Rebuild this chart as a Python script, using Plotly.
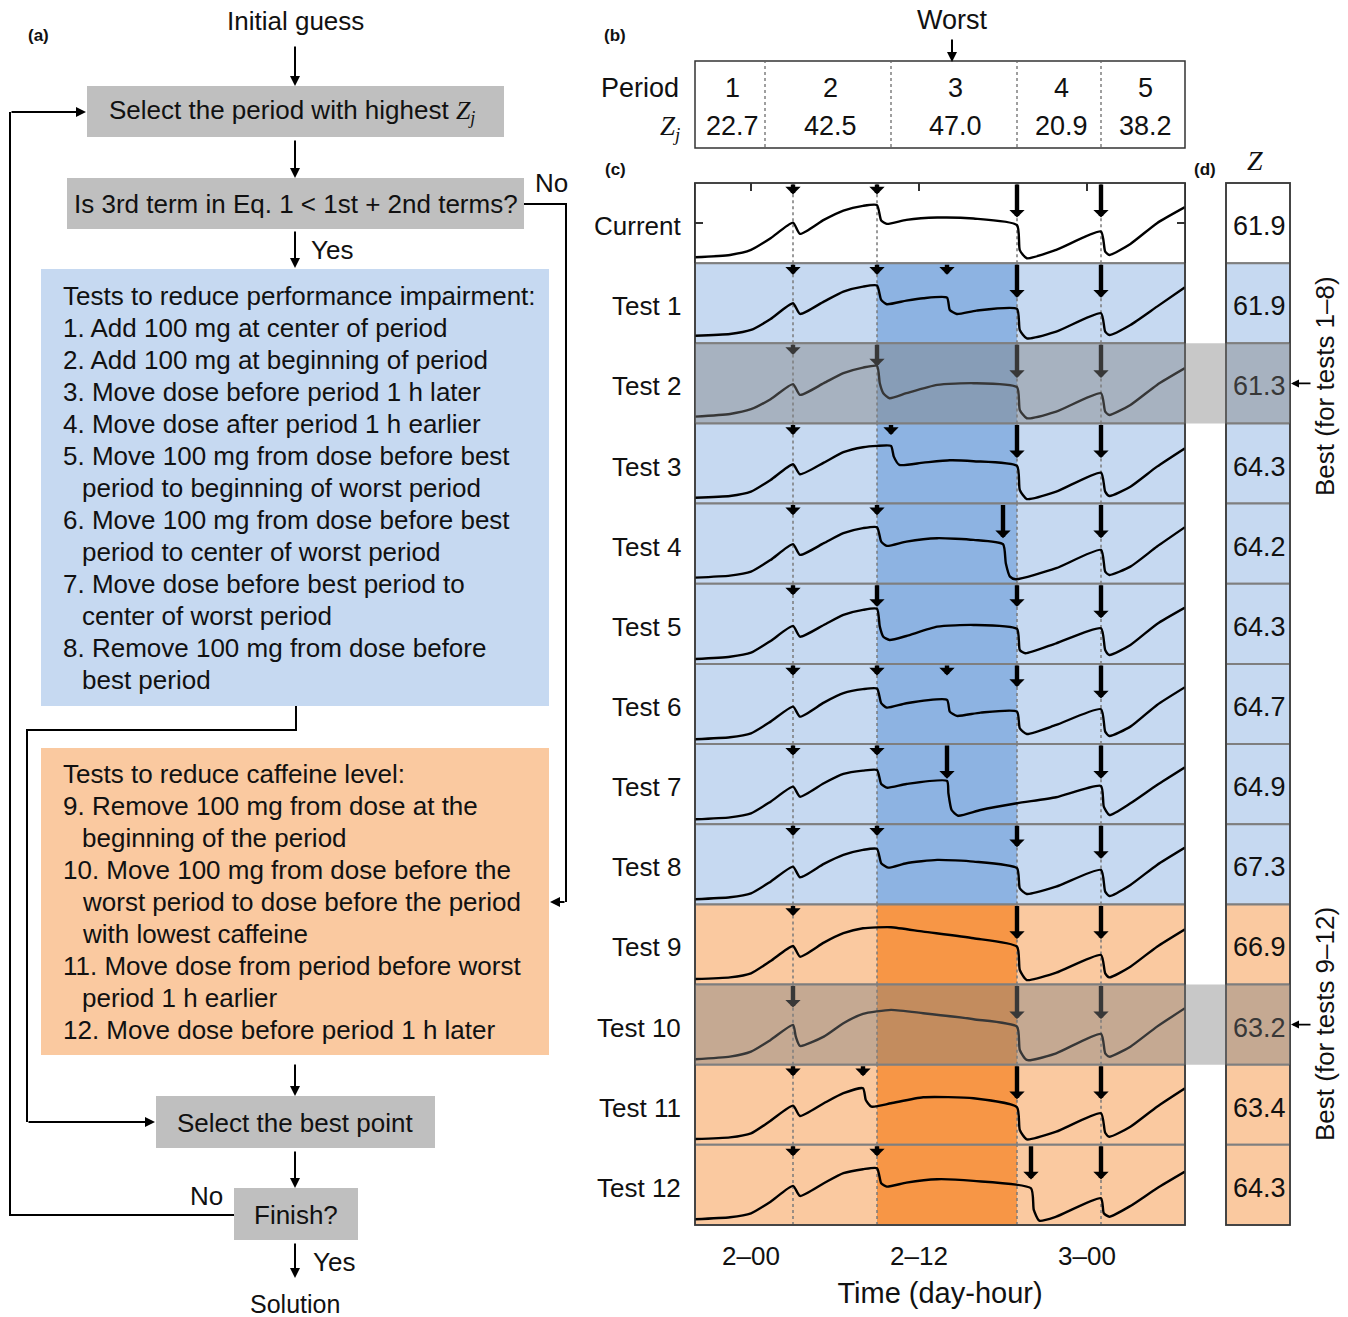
import plotly.graph_objects as go

# ------------------------------------------------------------------ data
row_labels = ["Current", "Test 1", "Test 2", "Test 3", "Test 4", "Test 5", "Test 6",
              "Test 7", "Test 8", "Test 9", "Test 10", "Test 11", "Test 12"]
row_group = ["current"] + ["impair"] * 8 + ["caffeine"] * 4
z_total = [61.9, 61.9, 61.3, 64.3, 64.2, 64.3, 64.7, 64.9, 67.3, 66.9, 63.2, 63.4, 64.3]
best_rows = ["Test 2", "Test 10"]

periods = ["1", "2", "3", "4", "5"]
period_z = ["22.7", "42.5", "47.0", "20.9", "38.2"]
worst_period = "3"

period_bounds_h = [3, 9, 19, 25]
worst_start_h, worst_end_h = 9, 19
time_ticks_h = [0, 12, 24]
time_tick_text = ["2\u201300", "2\u201312", "3\u201300"]

# performance impairment curves (hours from day 2, 00:00 ; impairment units)
current_t = [-4.0, -1.5, 0.0, 1.4, 3.0, 3.5, 5.2, 6.6, 8.0, 9.0, 9.3, 9.7, 11.1, 13.3, 15.9, 19.0, 19.2, 19.7, 21.8, 25.0, 25.3, 25.6, 27.1, 29.0, 31.0]
current_h = [5.9, 8.2, 13.2, 24.9, 40.5, 29.2, 43.2, 52.5, 57.2, 57.9, 42.5, 39.2, 43.2, 45.5, 44.5, 37.9, 13.0, 4.9, 13.2, 31.5, 11.5, 8.2, 19.2, 39.9, 55.9]
test1_t = [-4.0, -1.5, 0.0, 1.4, 3.0, 3.5, 5.2, 6.6, 8.0, 9.0, 9.3, 9.7, 11.1, 12.3, 14.0, 14.2, 14.7, 16.1, 19.0, 19.2, 19.7, 21.8, 25.0, 25.3, 25.6, 27.1, 29.0, 31.0]
test1_h = [7.6, 9.3, 13.3, 24.3, 40.0, 29.3, 41.6, 51.6, 56.6, 57.6, 43.3, 39.0, 42.6, 45.0, 45.6, 33.3, 29.3, 32.6, 34.3, 13.3, 5.0, 11.6, 30.0, 11.6, 8.3, 18.3, 36.6, 56.0]
test2_t = [-4.0, -1.5, 0.0, 1.4, 3.0, 3.5, 5.2, 6.6, 8.0, 9.0, 9.2, 9.45, 9.9, 11.1, 13.3, 15.9, 19.0, 19.2, 19.7, 21.8, 25.0, 25.3, 25.6, 27.1, 29.0, 31.0]
test2_h = [6.8, 9.5, 14.2, 24.2, 39.2, 28.5, 40.2, 50.2, 55.8, 57.5, 40.2, 30.2, 25.2, 30.2, 38.5, 40.2, 36.2, 13.5, 5.2, 11.8, 30.2, 11.8, 8.5, 18.5, 38.5, 55.2]
test3_t = [-4.0, -1.5, 0.0, 1.4, 3.0, 3.5, 5.2, 6.6, 8.0, 9.0, 10.0, 10.2, 10.6, 12.3, 14.2, 15.9, 19.0, 19.2, 19.7, 21.8, 25.0, 25.3, 25.6, 27.1, 29.0, 31.0]
test3_h = [5.9, 7.6, 11.9, 23.6, 39.3, 29.3, 40.9, 51.3, 56.3, 57.6, 57.6, 46.9, 38.6, 40.9, 43.3, 42.3, 37.6, 13.6, 4.6, 11.9, 30.9, 11.9, 7.6, 16.9, 36.9, 55.3]
test4_t = [-4.0, -1.5, 0.0, 1.4, 3.0, 3.5, 5.2, 6.6, 8.0, 9.0, 9.3, 9.7, 11.1, 13.3, 15.9, 18.0, 18.2, 18.5, 18.9, 21.8, 25.0, 25.3, 25.6, 27.1, 29.0, 31.0]
test4_h = [6.1, 8.1, 12.1, 23.8, 39.5, 28.8, 40.5, 50.5, 55.5, 56.5, 42.1, 37.8, 42.1, 45.5, 43.8, 39.5, 20.5, 7.1, 4.5, 15.5, 33.8, 12.1, 8.8, 17.1, 37.1, 56.5]
test5_t = [-4.0, -1.5, 0.0, 1.4, 3.0, 3.5, 5.2, 6.6, 8.0, 9.0, 9.2, 9.45, 9.9, 11.1, 13.3, 15.9, 19.0, 19.2, 19.6, 21.8, 25.0, 25.3, 25.6, 27.1, 29.0, 31.0]
test5_h = [4.9, 7.2, 11.2, 22.9, 37.9, 27.2, 38.9, 48.9, 53.9, 54.9, 37.2, 27.2, 23.9, 27.9, 37.2, 38.9, 34.9, 13.9, 10.6, 20.6, 35.6, 13.9, 8.9, 18.9, 39.9, 56.2]
test6_t = [-4.0, -1.5, 0.0, 1.4, 3.0, 3.5, 5.2, 6.6, 8.0, 9.0, 9.3, 9.7, 11.1, 14.0, 14.2, 14.7, 16.4, 19.0, 19.2, 19.7, 21.8, 25.0, 25.3, 25.6, 27.1, 29.0, 31.0]
test6_h = [4.8, 6.8, 10.8, 22.4, 37.4, 27.4, 41.4, 50.8, 54.8, 55.4, 40.8, 36.4, 40.8, 44.1, 32.4, 28.1, 31.4, 32.4, 15.8, 10.1, 19.1, 34.8, 12.4, 8.1, 17.4, 39.1, 56.8]
test7_t = [-4.0, -1.5, 0.0, 1.4, 3.0, 3.5, 5.2, 6.6, 8.0, 9.0, 9.3, 9.7, 11.1, 14.0, 14.1, 14.33, 14.8, 16.4, 19.0, 21.8, 25.0, 25.2, 25.6, 27.1, 29.0, 31.0]
test7_h = [4.9, 6.9, 10.9, 22.5, 37.5, 27.5, 40.9, 50.2, 53.5, 54.2, 40.2, 36.5, 40.2, 43.2, 30.9, 14.2, 8.5, 14.2, 20.9, 26.9, 38.2, 17.5, 9.2, 20.9, 39.2, 56.9]
test8_t = [-4.0, -1.5, 0.0, 1.4, 3.0, 3.5, 5.2, 6.6, 8.0, 9.0, 9.3, 9.8, 11.1, 13.3, 15.9, 19.0, 19.2, 19.7, 21.8, 25.0, 25.3, 25.6, 27.1, 29.0, 31.0]
test8_h = [5.1, 7.1, 11.1, 22.7, 37.7, 27.1, 40.4, 49.4, 54.4, 55.4, 41.1, 36.7, 41.1, 44.4, 42.7, 36.1, 16.1, 10.4, 17.7, 34.4, 12.7, 8.4, 19.4, 39.4, 56.7]
test9_t = [-4.0, -1.5, 0.0, 1.4, 3.0, 3.5, 5.2, 6.6, 8.0, 10.0, 12.3, 15.9, 19.0, 19.2, 19.7, 21.8, 25.0, 25.3, 25.6, 27.1, 29.0, 31.0]
test9_h = [5.5, 7.2, 11.2, 23.5, 38.5, 27.8, 41.8, 51.2, 56.2, 57.2, 52.8, 46.2, 37.8, 14.5, 4.5, 11.8, 29.5, 11.2, 7.2, 17.8, 37.8, 55.2]
test10_t = [-4.0, -1.5, 0.0, 1.4, 3.0, 3.2, 3.5, 5.2, 6.6, 8.0, 10.0, 12.3, 15.9, 19.0, 19.2, 19.7, 21.8, 25.0, 25.3, 25.6, 27.1, 29.0, 31.0]
test10_h = [5.4, 8.0, 13.0, 24.7, 39.7, 28.0, 18.7, 28.0, 41.4, 50.7, 54.7, 51.4, 45.4, 38.0, 14.7, 4.7, 11.4, 30.7, 11.4, 8.0, 18.0, 38.0, 56.4]
test11_t = [-4.0, -1.5, 0.0, 1.4, 3.0, 3.5, 5.2, 6.6, 8.0, 8.2, 8.6, 10.0, 12.3, 15.9, 19.0, 19.2, 19.7, 21.8, 25.0, 25.3, 25.6, 27.1, 29.0, 31.0]
test11_h = [5.8, 7.5, 11.5, 24.1, 39.1, 28.8, 41.5, 51.5, 56.5, 44.8, 38.1, 41.5, 47.5, 46.5, 37.5, 14.8, 5.5, 13.1, 31.5, 12.1, 8.1, 18.1, 38.1, 56.5]
test12_t = [-4.0, -1.5, 0.0, 1.4, 3.0, 3.5, 5.2, 6.6, 8.0, 9.0, 9.3, 9.7, 11.1, 13.3, 15.9, 20.0, 20.2, 20.6, 21.8, 25.0, 25.2, 25.6, 27.1, 29.0, 31.0]
test12_h = [5.7, 7.7, 11.7, 23.3, 39.0, 29.0, 41.7, 51.7, 55.7, 56.7, 41.7, 38.3, 42.3, 45.7, 44.0, 36.7, 15.0, 4.3, 8.3, 26.7, 11.7, 8.3, 19.0, 36.7, 53.3]

# caffeine doses (time in hours, amount in mg)
current_dose_t, current_dose_mg = [3, 9, 19, 25], [100, 100, 300, 300]
test1_dose_t, test1_dose_mg = [3, 9, 14, 19, 25], [100, 100, 100, 300, 300]
test2_dose_t, test2_dose_mg = [3, 9, 19, 25], [100, 200, 300, 300]
test3_dose_t, test3_dose_mg = [3, 10, 19, 25], [100, 100, 300, 300]
test4_dose_t, test4_dose_mg = [3, 9, 18, 25], [100, 100, 300, 300]
test5_dose_t, test5_dose_mg = [3, 9, 19, 25], [100, 200, 200, 300]
test6_dose_t, test6_dose_mg = [3, 9, 14, 19, 25], [100, 100, 100, 200, 300]
test7_dose_t, test7_dose_mg = [3, 9, 14, 25], [100, 100, 300, 300]
test8_dose_t, test8_dose_mg = [3, 9, 19, 25], [100, 100, 200, 300]
test9_dose_t, test9_dose_mg = [3, 19, 25], [100, 300, 300]
test10_dose_t, test10_dose_mg = [3, 19, 25], [200, 300, 300]
test11_dose_t, test11_dose_mg = [3, 8, 19, 25], [100, 100, 300, 300]
test12_dose_t, test12_dose_mg = [3, 9, 20, 25], [100, 100, 300, 300]

curves = [(current_t, current_h), (test1_t, test1_h), (test2_t, test2_h), (test3_t, test3_h),
          (test4_t, test4_h), (test5_t, test5_h), (test6_t, test6_h), (test7_t, test7_h),
          (test8_t, test8_h), (test9_t, test9_h), (test10_t, test10_h), (test11_t, test11_h),
          (test12_t, test12_h)]
doses = [(current_dose_t, current_dose_mg), (test1_dose_t, test1_dose_mg), (test2_dose_t, test2_dose_mg),
         (test3_dose_t, test3_dose_mg), (test4_dose_t, test4_dose_mg), (test5_dose_t, test5_dose_mg),
         (test6_dose_t, test6_dose_mg), (test7_dose_t, test7_dose_mg), (test8_dose_t, test8_dose_mg),
         (test9_dose_t, test9_dose_mg), (test10_dose_t, test10_dose_mg), (test11_dose_t, test11_dose_mg),
         (test12_dose_t, test12_dose_mg)]

impair_tests = [
    ("Tests to reduce performance impairment:", 0),
    ("1. Add 100 mg at center of period", 0),
    ("2. Add 100 mg at beginning of period", 0),
    ("3. Move dose before period 1 h later", 0),
    ("4. Move dose after period 1 h earlier", 0),
    ("5. Move 100 mg from dose before best", 0),
    ("period to beginning of worst period", 1),
    ("6. Move 100 mg from dose before best", 0),
    ("period to center of worst period", 1),
    ("7. Move dose before best period to", 0),
    ("center of worst period", 1),
    ("8. Remove 100 mg from dose before", 0),
    ("best period", 1),
]
caffeine_tests = [
    ("Tests to reduce caffeine level:", 0),
    ("9. Remove 100 mg from dose at the", 0),
    ("beginning of the period", 1),
    ("10. Move 100 mg from dose before the", 0),
    ("worst period to dose before the period", 1),
    ("with lowest caffeine", 1),
    ("11. Move dose from period before worst", 0),
    ("period 1 h earlier", 1),
    ("12. Move dose before period 1 h later", 0),
]

# ------------------------------------------------------------------ styling
W, H = 1348, 1317
FONT = "Liberation Sans, Arial, sans-serif"
SERIF = "Liberation Serif, Times New Roman, serif"
LIGHT_BLUE, DARK_BLUE = "#C6D9F1", "#8DB3E2"
LIGHT_ORANGE, DARK_ORANGE = "#FAC9A0", "#F79646"
BOX_GRAY = "#BFBFBF"
INK = "#111111"
DIM = "#383838"
OVERLAY = "rgba(128,128,128,0.43)"
MG_TO_UNITS = 0.115
FS = 26      # flowchart font size
FT = 27      # table / panel font size


def fx(x):
    return x / W


def fy(y):
    return 1 - y / H


C_LEFT, C_RIGHT, C_TOP, C_BOT = 695, 1185, 183, 1225
D_LEFT, D_RIGHT = 1226, 1290
NROW = len(row_labels)
RH = (C_BOT - C_TOP) / NROW

fig = go.Figure()
shapes, annots = [], []
layout = dict(width=W, height=H, margin=dict(l=0, r=0, t=0, b=0), autosize=False,
              paper_bgcolor="white", plot_bgcolor="rgba(0,0,0,0)", showlegend=False,
              font=dict(family=FONT, size=24, color=INK))


def text(x, y, s, size=FS, xanchor="center", color=INK, **kw):
    annots.append(dict(x=fx(x), y=fy(y), xref="paper", yref="paper", text=s, showarrow=False,
                       xanchor=xanchor, yanchor="middle", font=dict(size=size, color=color, family=kw.pop("family", FONT)), **kw))


def rect(x0, y0, x1, y1, fill="rgba(0,0,0,0)", lc=None, lw=0, layer="below", dash=None):
    line = dict(width=lw, color=lc or "rgba(0,0,0,0)")
    if dash:
        line["dash"] = dash
    shapes.append(dict(type="rect", xref="paper", yref="paper", x0=fx(x0), x1=fx(x1), y0=fy(y1), y1=fy(y0),
                       fillcolor=fill, line=line, layer=layer))


def poly(pts, color="black", width=2):
    d = "M " + " L ".join(f"{fx(a):.5f},{fy(b):.5f}" for a, b in pts)
    shapes.append(dict(type="path", xref="paper", yref="paper", path=d, line=dict(color=color, width=width)))


def arrow(x0, y0, x1, y1, width=2, size=1.0, color="black"):
    annots.append(dict(x=fx(x1), y=fy(y1), xref="paper", yref="paper", ax=x0 - x1, ay=y0 - y1,
                       axref="pixel", ayref="pixel", text="", showarrow=True, arrowhead=2,
                       arrowsize=size, arrowwidth=width, arrowcolor=color, standoff=0, startstandoff=0))


# ------------------------------------------------------------------ (a) flowchart
text(38, 35, "<b>(a)</b>", size=17)
text(295, 21, "Initial guess")
arrow(295, 45, 295, 86)
rect(87, 86, 504, 137, fill=BOX_GRAY)
text(292, 112, "Select the period with highest "
     f"<span style='font-family:{SERIF}'><i>Z</i><sub><i>j</i></sub></span>")
arrow(295, 139, 295, 178)
rect(67, 178, 524, 229, fill=BOX_GRAY)
text(296, 204, "Is 3rd term in Eq. 1 &lt; 1st + 2nd terms?")
text(551, 183, "No")
poly([(524, 204), (566, 204), (566, 902)])
arrow(566, 902, 550, 902)
arrow(295, 230, 295, 268)
text(309, 250, "Yes", xanchor="left")

rect(41, 269, 549, 706, fill=LIGHT_BLUE)
for i, (s, ind) in enumerate(impair_tests):
    text(61 + 19 * ind, 296 + 32 * i, s, xanchor="left")
poly([(296, 706), (296, 730), (27, 730), (27, 1122)])
arrow(27, 1122, 155, 1122)

rect(41, 748, 549, 1055, fill=LIGHT_ORANGE)
for i, (s, ind) in enumerate(caffeine_tests):
    text(61 + 19 * ind, 774 + 32 * i, s, xanchor="left")

arrow(295, 1063, 295, 1096)
rect(156, 1096, 435, 1148, fill=BOX_GRAY)
text(295, 1123, "Select the best point")
arrow(295, 1150, 295, 1188)
rect(234, 1188, 358, 1240, fill=BOX_GRAY)
text(296, 1215, "Finish?")
text(206, 1196, "No")
poly([(234, 1215), (10, 1215), (10, 112)])
arrow(10, 112, 86, 112)
arrow(295, 1242, 295, 1278)
text(311, 1262, "Yes", xanchor="left")
text(295, 1304, "Solution", size=25)

# ------------------------------------------------------------------ (b) table
text(615, 35, "<b>(b)</b>", size=17)
text(952, 20, "Worst", size=FT)
arrow(952, 38, 952, 62, width=2)
rect(695, 61, 1185, 148, lc="#333333", lw=1.5, layer="above")
sep_px = [765, 891, 1017, 1101]
for s in sep_px:
    shapes.append(dict(type="line", xref="paper", yref="paper", x0=fx(s), x1=fx(s), y0=fy(147), y1=fy(62),
                       line=dict(color="#808080", width=1.5, dash="dot")))
edges = [695] + sep_px + [1185]
for i, (p, z) in enumerate(zip(periods, period_z)):
    cx = (edges[i] + edges[i + 1]) / 2 + 2
    text(cx, 88, p, size=FT)
    text(cx, 126, z, size=FT)
text(681, 88, "Period", size=FT, xanchor="right")
text(682, 128, f"<span style='font-family:{SERIF}'><i>Z</i><sub><i>j</i></sub></span>", size=27, xanchor="right")

# ------------------------------------------------------------------ (c) panels
text(615, 170, "<b>(c)</b>", size=17)
for r in range(NROW):
    k = "" if r == 0 else str(r + 1)
    top = C_TOP + r * RH
    bot = top + RH
    grp = row_group[r]
    xa = dict(domain=[fx(C_LEFT), fx(C_RIGHT)], range=[-4, 31], anchor="y" + k, showgrid=False,
              zeroline=False, showticklabels=False, ticks="", fixedrange=True)
    ya = dict(domain=[fy(bot), fy(top)], range=[0, 80], anchor="x" + k, showgrid=False,
              zeroline=False, showticklabels=False, ticks="", fixedrange=True)
    if r == 0:
        xa.update(side="top", ticks="inside", tickvals=time_ticks_h, ticklen=8, tickwidth=1.5,
                  tickcolor="#333333")
        ya.update(ticks="inside", tickvals=[40], ticklen=8, tickwidth=1.5, tickcolor="#333333",
                  mirror="ticks", showline=True, linecolor="#333333", linewidth=1.2)
    if r == NROW - 1:
        xa.update(showticklabels=True, tickvals=time_ticks_h, ticktext=time_tick_text,
                  tickfont=dict(size=26, color=INK), ticks="outside", ticklen=8, tickcolor="rgba(0,0,0,0)",
                  title=dict(text="Time (day-hour)", font=dict(size=29, color=INK), standoff=12))
    layout["xaxis" + k] = xa
    layout["yaxis" + k] = ya

    light = {"current": "white", "impair": LIGHT_BLUE, "caffeine": LIGHT_ORANGE}[grp]
    dark = {"current": None, "impair": DARK_BLUE, "caffeine": DARK_ORANGE}[grp]
    rect(C_LEFT, top, C_RIGHT, bot, fill=light)
    if dark:
        shapes.append(dict(type="rect", xref="x" + k, yref=f"y{k} domain", x0=worst_start_h, x1=worst_end_h,
                           y0=0, y1=1, fillcolor=dark, line=dict(width=0), layer="below"))
    for b in period_bounds_h:
        shapes.append(dict(type="line", xref="x" + k, yref=f"y{k} domain", x0=b, x1=b, y0=0, y1=1,
                           line=dict(color="#7a7a7a", width=1.5, dash="dot"), layer="below"))
    rect(C_LEFT, top, C_RIGHT, bot, lc="#7f7f7f", lw=2)

    # curve
    t, h = curves[r]
    fig.add_trace(go.Scatter(x=t, y=h, mode="lines", xaxis="x" + k, yaxis="y" + k, hoverinfo="skip",
                             line=dict(color="black", width=2.4, shape="spline", smoothing=0.55)))
    # dose arrows
    dim = row_labels[r] in best_rows
    for dt, mg in zip(*doses[r]):
        annots.append(dict(x=dt, y=80 - mg * MG_TO_UNITS, xref="x" + k, yref="y" + k, ax=dt, ay=80,
                           axref="x" + k, ayref="y" + k, text="", showarrow=True, arrowhead=1,
                           arrowsize=0.58, arrowwidth=4.4, arrowcolor=DIM if dim else "black",
                           standoff=0, startstandoff=0))
    # row label
    text(683, (top + bot) / 2 + 3, row_labels[r], size=26, xanchor="right")

    # (d) cell
    rect(D_LEFT, top, D_RIGHT, bot, fill=light, lc="#7f7f7f", lw=2)
    text((D_LEFT + D_RIGHT) / 2 + 1, (top + bot) / 2 + 3, f"{z_total[r]:.1f}", size=FT,
         color=DIM if dim else INK)

# outer borders
rect(C_LEFT, C_TOP, C_RIGHT, C_BOT, lc="#333333", lw=1.5, layer="above")
rect(D_LEFT, C_TOP, D_RIGHT, C_BOT, lc="#333333", lw=1.5, layer="above")

# best highlight overlays
best_labels = ["Best (for tests 1\u20138)", "Best (for tests 9\u201312)"]
best_label_y = [386, 1024]
for name in best_rows:
    r = row_labels.index(name)
    top = C_TOP + r * RH
    bot = top + RH
    rect(C_LEFT, top, D_RIGHT, bot, fill=OVERLAY, layer="above")
    cy = (top + bot) / 2
    arrow(1312, cy, 1291, cy, width=1.6, size=1.0)

# (d) labels
text(1205, 170, "<b>(d)</b>", size=17)
text(1255, 160, f"<span style='font-family:{SERIF}'><i>Z</i></span>", size=28)
for lab, ly in zip(best_labels, best_label_y):
    annots.append(dict(x=fx(1325), y=fy(ly), xref="paper", yref="paper", text=lab,
                       showarrow=False, textangle=-90, xanchor="center", yanchor="middle",
                       font=dict(size=26, color=INK, family=FONT)))

layout["shapes"] = shapes
layout["annotations"] = annots
fig.update_layout(**layout)
fig.write_html("out.html", config={"displayModeBar": False, "staticPlot": True},
               post_script="document.body.style.margin='0';document.body.style.overflow='hidden';")
